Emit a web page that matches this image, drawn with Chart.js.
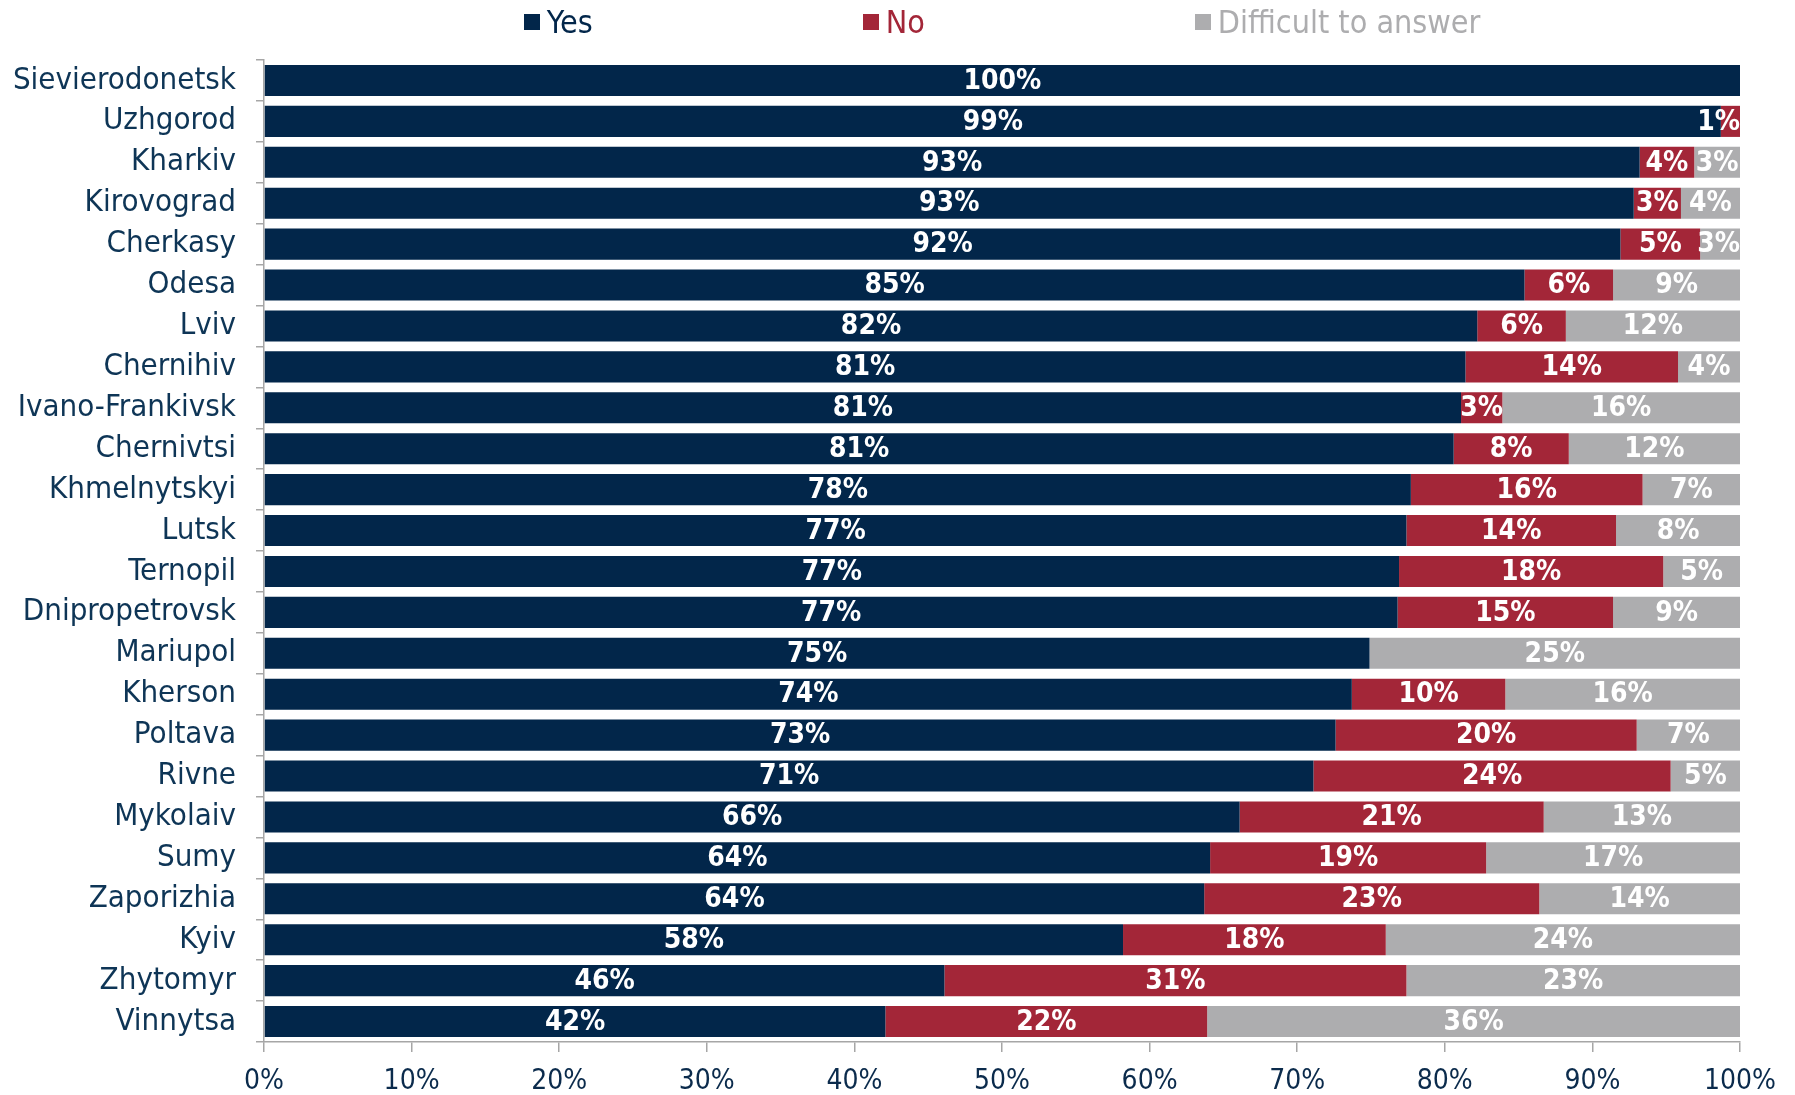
<!DOCTYPE html>
<html>
<head>
<meta charset="utf-8">
<script src="https://cdn.jsdelivr.net/npm/chart.js@4/dist/chart.umd.min.js"></script>
<style>
  body { margin: 0; background: #fff; }
  #wrap { position: relative; width: 1795px; height: 1095px; }
  #legend {
    position: absolute; top: 4px; left: 0; height: 36px;
    display: flex; justify-content: center; align-items: center; gap: 270px;
    font-family: "DejaVu Sans Condensed", "DejaVu Sans", sans-serif; font-size: 32px;
  }
  #legend .item { display: flex; align-items: center; white-space: nowrap; }
  #legend .box { width: 16px; height: 16px; margin-right: 7px; }
</style>
</head>
<body>
<div id="wrap">
  <canvas id="chart"></canvas>
  <div id="legend"></div>
</div>
<script>
const FONT = '"DejaVu Sans Condensed", "DejaVu Sans", sans-serif';

const cities = [
  "Sievierodonetsk", "Uzhgorod", "Kharkiv", "Kirovograd", "Cherkasy", "Odesa",
  "Lviv", "Chernihiv", "Ivano-Frankivsk", "Chernivtsi", "Khmelnytskyi", "Lutsk",
  "Ternopil", "Dnipropetrovsk", "Mariupol", "Kherson", "Poltava", "Rivne",
  "Mykolaiv", "Sumy", "Zaporizhia", "Kyiv", "Zhytomyr", "Vinnytsa"
];

const yes = [100, 98.7, 93.2, 92.8, 91.9, 85.4, 82.2, 81.4, 81.1, 80.6, 77.7, 77.4,
             76.9, 76.8, 74.9, 73.7, 72.6, 71.1, 66.1, 64.1, 63.7, 58.2, 46.1, 42.1];
const no = [0, 1.3, 3.7, 3.2, 5.4, 6.0, 6.0, 14.4, 2.8, 7.8, 15.7, 14.2,
            17.9, 14.6, 0, 10.4, 20.4, 24.2, 20.6, 18.7, 22.7, 17.8, 31.3, 21.8];
const difficult = [0, 0, 3.1, 4.0, 2.7, 8.6, 11.8, 4.2, 16.1, 11.6, 6.6, 8.4,
                   5.2, 8.6, 25.1, 15.9, 7.0, 4.7, 13.3, 17.2, 13.6, 24.0, 22.6, 36.1];

const xTicks = [0, 10, 20, 30, 40, 50, 60, 70, 80, 90, 100];

const navy = "#02264a";
const red = "#a32638";
const grey = "#adadaf";
const axisGrey = "#a6a6a6";

// white percentage labels centred in each segment
const segmentLabels = {
  id: "segmentLabels",
  afterDatasetsDraw(chart) {
    const ctx = chart.ctx;
    const area = chart.chartArea;
    ctx.save();
    ctx.font = "bold 28px " + FONT;
    ctx.fillStyle = "#ffffff";
    ctx.textAlign = "center";
    ctx.textBaseline = "middle";
    chart.data.datasets.forEach((ds, di) => {
      const meta = chart.getDatasetMeta(di);
      meta.data.forEach((bar, i) => {
        const v = ds.data[i];
        if (!v || v < 0.5) return;
        const p = bar.getProps(["x", "y", "base"], true);
        const text = Math.round(v) + "%";
        const w = ctx.measureText(text).width;
        let cx = (p.x + p.base) / 2;
        if (cx + w / 2 > area.right) cx = area.right - w / 2;
        ctx.fillText(text, cx, p.y + 1);
      });
    });
    ctx.restore();
  }
};

const chart = new Chart(document.getElementById("chart"), {
  type: "bar",
  data: {
    labels: cities,
    datasets: [
      { label: "Yes", data: yes, backgroundColor: navy },
      { label: "No", data: no, backgroundColor: red },
      { label: "Difficult to answer", data: difficult, backgroundColor: grey }
    ]
  },
  options: {
    indexAxis: "y",
    responsive: true,
    maintainAspectRatio: false,
    animation: false,
    layout: { padding: { top: 60, right: 55, left: 0, bottom: 0 } },
    datasets: {
      bar: { categoryPercentage: 1, barPercentage: 0.76, borderWidth: 0 }
    },
    plugins: {
      legend: { display: false },
      tooltip: { enabled: false }
    },
    scales: {
      x: {
        stacked: true,
        min: 0,
        max: 100,
        afterBuildTicks: scale => { scale.ticks = xTicks.map(v => ({ value: v })); },
        afterFit: scale => { scale.height = 53; },
        border: { color: axisGrey, width: 1.5 },
        grid: { drawOnChartArea: false, color: axisGrey, tickLength: 10, lineWidth: 1.5 },
        ticks: {
          padding: 13,
          color: "#0b2b4c",
          font: { family: FONT, size: 28 },
          callback: v => v + "%",
          maxRotation: 0
        }
      },
      y: {
        stacked: true,
        afterFit: scale => { scale.width = 264; },
        border: { color: axisGrey, width: 1.5 },
        grid: { drawOnChartArea: false, color: axisGrey, tickLength: 8, lineWidth: 1.5, offset: true },
        ticks: {
          padding: 20,
          color: "#0e3556",
          font: { family: FONT, size: 31 },
          autoSkip: false
        }
      }
    }
  },
  plugins: [segmentLabels]
});

// legend built from the datasets, centred over the plot area
const legendEl = document.getElementById("legend");
const area = chart.chartArea;
legendEl.style.left = area.left + "px";
legendEl.style.width = (area.right - area.left) + "px";
chart.data.datasets.forEach(ds => {
  const item = document.createElement("div");
  item.className = "item";
  item.style.color = ds.backgroundColor;
  const box = document.createElement("span");
  box.className = "box";
  box.style.background = ds.backgroundColor;
  item.appendChild(box);
  item.appendChild(document.createTextNode(ds.label));
  legendEl.appendChild(item);
});
</script>
</body>
</html>
